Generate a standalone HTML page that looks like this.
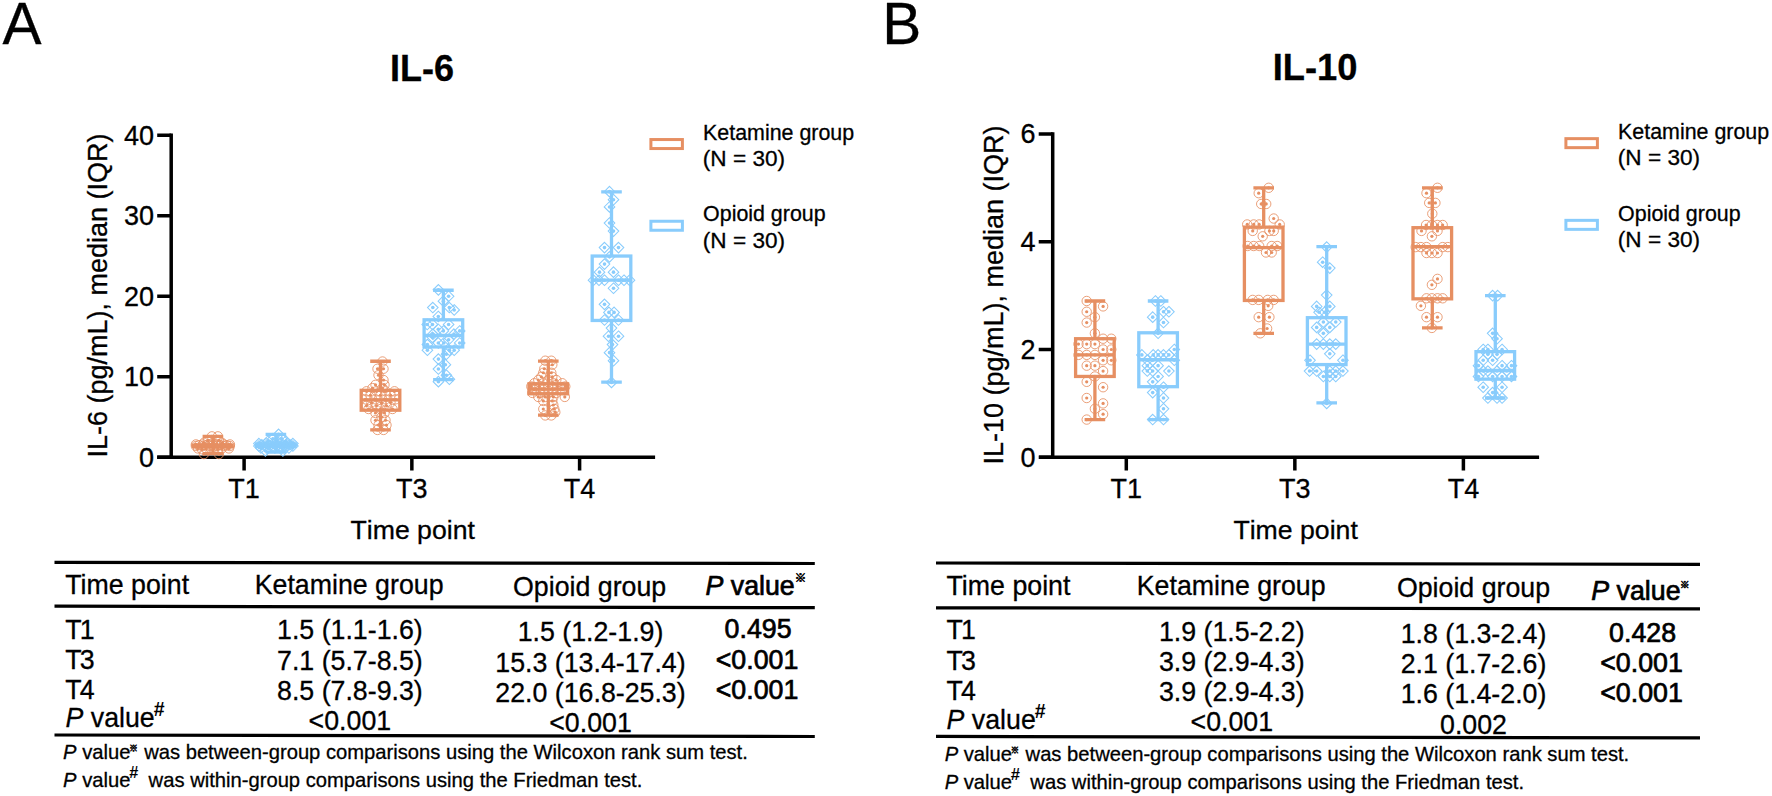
<!DOCTYPE html>
<html lang="en"><head><meta charset="utf-8"><title>IL-6 and IL-10</title>
<style>
html,body{margin:0;padding:0;background:#fff;}
body{width:1772px;height:796px;overflow:hidden;}
svg{display:block;font-family:"Liberation Sans", sans-serif;fill:#000;}
text{white-space:pre;stroke:#000;stroke-width:0.3px;}
.t27{font-size:27px;font-kerning:none;}
.nk{font-kerning:none;font-size:26.65px;}
.tt{font-size:26.75px;}
.t21{font-size:21.4px;font-kerning:none;}
.t22{font-size:22.6px;}
.t19{font-size:20.2px;}
.b{stroke:#000;stroke-width:0.7px;}
.i{font-style:italic;}
.sb{font-weight:bold;stroke:none;}
.sb.cjk{stroke:#000;stroke-width:0.7px;}
.cjk{font-family:"Liberation Sans","Noto Sans CJK SC","Noto Sans CJK JP",sans-serif;}
</style></head><body>
<svg width="1772" height="796" viewBox="0 0 1772 796">

<text x="2.6" y="43.8" font-size="58.5">A</text>
<text x="882.3" y="43.8" font-size="58.5">B</text>
<text x="422.1" y="81.1" font-size="36" font-weight="bold" text-anchor="middle">IL-6</text>
<text x="1315" y="79.7" font-size="36.3" font-weight="bold" text-anchor="middle">IL-10</text>
<text class="t27" transform="translate(106.7 295.5) rotate(-90)" text-anchor="middle">IL-6 (pg/mL), median (IQR)</text>
<text class="t27" transform="translate(1002.9 295.0) rotate(-90)" text-anchor="middle">IL-10 (pg/mL), median (IQR)</text>
<text class="t27" x="154.1" y="466.7" text-anchor="end">0</text>
<text class="t27" x="154.1" y="386.2" text-anchor="end">10</text>
<text class="t27" x="154.1" y="305.7" text-anchor="end">20</text>
<text class="t27" x="154.1" y="225.2" text-anchor="end">30</text>
<text class="t27" x="154.1" y="144.7" text-anchor="end">40</text>
<text class="t27" x="244.1" y="498.4" text-anchor="middle">T1</text>
<text class="t27" x="411.85" y="498.4" text-anchor="middle">T3</text>
<text class="t27" x="579.6" y="498.4" text-anchor="middle">T4</text>
<text class="t27" x="1035.6" y="466.7" text-anchor="end">0</text>
<text class="t27" x="1035.6" y="358.9" text-anchor="end">2</text>
<text class="t27" x="1035.6" y="251.1" text-anchor="end">4</text>
<text class="t27" x="1035.6" y="143.3" text-anchor="end">6</text>
<text class="t27" x="1126.3" y="498.4" text-anchor="middle">T1</text>
<text class="t27" x="1294.85" y="498.4" text-anchor="middle">T3</text>
<text class="t27" x="1463.4" y="498.4" text-anchor="middle">T4</text>
<text class="t27 nk" x="412.7" y="538.7" text-anchor="middle">Time point</text>
<text class="t27 nk" x="1295.6" y="539" text-anchor="middle">Time point</text>
<rect x="650.9" y="139.55" width="31.5" height="9" fill="none" stroke="#E68F62" stroke-width="3"/>
<rect x="650.9" y="221.25" width="31.5" height="9" fill="none" stroke="#89CCFC" stroke-width="3"/>
<text class="t21" x="703.1" y="139.70000000000002">Ketamine group</text>
<text class="t22" x="702.8000000000001" y="165.6">(N = 30)</text>
<text class="t21" x="703.1" y="221.4">Opioid group</text>
<text class="t22" x="702.8000000000001" y="247.60000000000002">(N = 30)</text>
<rect x="1565.9" y="138.65" width="31.5" height="9" fill="none" stroke="#E68F62" stroke-width="3"/>
<rect x="1565.9" y="220.35" width="31.5" height="9" fill="none" stroke="#89CCFC" stroke-width="3"/>
<text class="t21" x="1618.1" y="138.8">Ketamine group</text>
<text class="t22" x="1617.8" y="164.7">(N = 30)</text>
<text class="t21" x="1618.1" y="220.5">Opioid group</text>
<text class="t22" x="1617.8" y="246.7">(N = 30)</text>
<g stroke="#000" stroke-width="3.5" fill="none"><path d="M171.2 133.55V457.3M157.2 457.3H655.1"/>
<path d="M157.2 457.3H171.2M157.2 376.8H171.2M157.2 296.3H171.2M157.2 215.8H171.2M157.2 135.3H171.2M244.1 457.3V470.6M411.85 457.3V470.6M579.6 457.3V470.6"/></g>
<g stroke="#000" stroke-width="3.5" fill="none"><path d="M1052.7 132.15V457.3M1039 457.3H1539.1"/>
<path d="M1038.7 457.3H1052.7M1038.7 349.5H1052.7M1038.7 241.7H1052.7M1038.7 133.9H1052.7M1126.3 457.3V470.6M1294.85 457.3V470.6M1463.4 457.3V470.6"/></g>
<g stroke="#E68F62" stroke-width="3.3" fill="none"><path d="M212.9 436.37V445.06M212.9 446.43V453.68M202.6 436.37H223.2M202.6 453.68H223.2M193.6 445.71H232.2"/><rect x="193.6" y="445.06" width="38.6" height="1.37"/></g><g fill="none" stroke="#E68F62" stroke-width="0.85"><circle cx="211.9" cy="436.37" r="4.7"/><circle cx="211.9" cy="436.37" r="1.6" fill="#E68F62" stroke="none"/><circle cx="217.9" cy="436.37" r="4.7"/><circle cx="217.9" cy="436.37" r="1.6" fill="#E68F62" stroke="none"/><circle cx="207.9" cy="440.39" r="4.7"/><circle cx="207.9" cy="440.39" r="1.6" fill="#E68F62" stroke="none"/><circle cx="218.9" cy="440.39" r="4.7"/><circle cx="218.9" cy="440.39" r="1.6" fill="#E68F62" stroke="none"/><circle cx="203.9" cy="442.81" r="4.7"/><circle cx="203.9" cy="442.81" r="1.6" fill="#E68F62" stroke="none"/><circle cx="212.9" cy="442.81" r="4.7"/><circle cx="212.9" cy="442.81" r="1.6" fill="#E68F62" stroke="none"/><circle cx="221.9" cy="442.81" r="4.7"/><circle cx="221.9" cy="442.81" r="1.6" fill="#E68F62" stroke="none"/><circle cx="195.9" cy="444.42" r="4.7"/><circle cx="195.9" cy="444.42" r="1.6" fill="#E68F62" stroke="none"/><circle cx="202.9" cy="444.42" r="4.7"/><circle cx="202.9" cy="444.42" r="1.6" fill="#E68F62" stroke="none"/><circle cx="209.9" cy="444.42" r="4.7"/><circle cx="209.9" cy="444.42" r="1.6" fill="#E68F62" stroke="none"/><circle cx="216.9" cy="444.42" r="4.7"/><circle cx="216.9" cy="444.42" r="1.6" fill="#E68F62" stroke="none"/><circle cx="223.9" cy="444.42" r="4.7"/><circle cx="223.9" cy="444.42" r="1.6" fill="#E68F62" stroke="none"/><circle cx="229.9" cy="444.42" r="4.7"/><circle cx="229.9" cy="444.42" r="1.6" fill="#E68F62" stroke="none"/><circle cx="198.9" cy="445.23" r="4.7"/><circle cx="198.9" cy="445.23" r="1.6" fill="#E68F62" stroke="none"/><circle cx="205.9" cy="445.23" r="4.7"/><circle cx="205.9" cy="445.23" r="1.6" fill="#E68F62" stroke="none"/><circle cx="212.9" cy="445.23" r="4.7"/><circle cx="212.9" cy="445.23" r="1.6" fill="#E68F62" stroke="none"/><circle cx="219.9" cy="445.23" r="4.7"/><circle cx="219.9" cy="445.23" r="1.6" fill="#E68F62" stroke="none"/><circle cx="226.9" cy="445.23" r="4.7"/><circle cx="226.9" cy="445.23" r="1.6" fill="#E68F62" stroke="none"/><circle cx="195.9" cy="446.03" r="4.7"/><circle cx="195.9" cy="446.03" r="1.6" fill="#E68F62" stroke="none"/><circle cx="202.9" cy="446.03" r="4.7"/><circle cx="202.9" cy="446.03" r="1.6" fill="#E68F62" stroke="none"/><circle cx="209.9" cy="446.03" r="4.7"/><circle cx="209.9" cy="446.03" r="1.6" fill="#E68F62" stroke="none"/><circle cx="216.9" cy="446.03" r="4.7"/><circle cx="216.9" cy="446.03" r="1.6" fill="#E68F62" stroke="none"/><circle cx="223.9" cy="446.03" r="4.7"/><circle cx="223.9" cy="446.03" r="1.6" fill="#E68F62" stroke="none"/><circle cx="229.9" cy="446.03" r="4.7"/><circle cx="229.9" cy="446.03" r="1.6" fill="#E68F62" stroke="none"/><circle cx="197.9" cy="448.44" r="4.7"/><circle cx="197.9" cy="448.44" r="1.6" fill="#E68F62" stroke="none"/><circle cx="205.9" cy="448.44" r="4.7"/><circle cx="205.9" cy="448.44" r="1.6" fill="#E68F62" stroke="none"/><circle cx="213.9" cy="448.44" r="4.7"/><circle cx="213.9" cy="448.44" r="1.6" fill="#E68F62" stroke="none"/><circle cx="221.9" cy="448.44" r="4.7"/><circle cx="221.9" cy="448.44" r="1.6" fill="#E68F62" stroke="none"/><circle cx="228.9" cy="448.44" r="4.7"/><circle cx="228.9" cy="448.44" r="1.6" fill="#E68F62" stroke="none"/><circle cx="201.9" cy="449.25" r="4.7"/><circle cx="201.9" cy="449.25" r="1.6" fill="#E68F62" stroke="none"/><circle cx="217.9" cy="449.25" r="4.7"/><circle cx="217.9" cy="449.25" r="1.6" fill="#E68F62" stroke="none"/><circle cx="203.9" cy="454.08" r="4.7"/><circle cx="203.9" cy="454.08" r="1.6" fill="#E68F62" stroke="none"/><circle cx="218.9" cy="454.08" r="4.7"/><circle cx="218.9" cy="454.08" r="1.6" fill="#E68F62" stroke="none"/></g>
<g stroke="#89CCFC" stroke-width="3.3" fill="none"><path d="M275.9 434.28V444.02M275.9 446.27V452.07M265.6 434.28H286.2M265.6 452.07H286.2M256.6 445.23H295.2"/><rect x="256.6" y="444.02" width="38.6" height="2.25"/></g><g fill="none" stroke="#89CCFC" stroke-width="0.85"><path stroke-width="1.05" d="M278.6 429.06L283.9 434.36L278.6 439.66L273.3 434.36Z"/><circle cx="278.6" cy="434.36" r="1.8" fill="#89CCFC" stroke="none"/><path stroke-width="1.05" d="M272.9 433.49L278.2 438.79L272.9 444.09L267.6 438.79Z"/><circle cx="272.9" cy="438.79" r="1.8" fill="#89CCFC" stroke="none"/><path stroke-width="1.05" d="M281.9 433.49L287.2 438.79L281.9 444.09L276.6 438.79Z"/><circle cx="281.9" cy="438.79" r="1.8" fill="#89CCFC" stroke="none"/><path stroke-width="1.05" d="M267.9 435.9L273.2 441.2L267.9 446.5L262.6 441.2Z"/><circle cx="267.9" cy="441.2" r="1.8" fill="#89CCFC" stroke="none"/><path stroke-width="1.05" d="M276.9 435.9L282.2 441.2L276.9 446.5L271.6 441.2Z"/><circle cx="276.9" cy="441.2" r="1.8" fill="#89CCFC" stroke="none"/><path stroke-width="1.05" d="M285.9 435.9L291.2 441.2L285.9 446.5L280.6 441.2Z"/><circle cx="285.9" cy="441.2" r="1.8" fill="#89CCFC" stroke="none"/><path stroke-width="1.05" d="M258.9 438.31L264.2 443.62L258.9 448.92L253.6 443.62Z"/><circle cx="258.9" cy="443.62" r="1.8" fill="#89CCFC" stroke="none"/><path stroke-width="1.05" d="M265.9 438.31L271.2 443.62L265.9 448.92L260.6 443.62Z"/><circle cx="265.9" cy="443.62" r="1.8" fill="#89CCFC" stroke="none"/><path stroke-width="1.05" d="M272.9 438.31L278.2 443.62L272.9 448.92L267.6 443.62Z"/><circle cx="272.9" cy="443.62" r="1.8" fill="#89CCFC" stroke="none"/><path stroke-width="1.05" d="M279.9 438.31L285.2 443.62L279.9 448.92L274.6 443.62Z"/><circle cx="279.9" cy="443.62" r="1.8" fill="#89CCFC" stroke="none"/><path stroke-width="1.05" d="M286.9 438.31L292.2 443.62L286.9 448.92L281.6 443.62Z"/><circle cx="286.9" cy="443.62" r="1.8" fill="#89CCFC" stroke="none"/><path stroke-width="1.05" d="M292.9 438.31L298.2 443.62L292.9 448.92L287.6 443.62Z"/><circle cx="292.9" cy="443.62" r="1.8" fill="#89CCFC" stroke="none"/><path stroke-width="1.05" d="M261.9 439.52L267.2 444.82L261.9 450.12L256.6 444.82Z"/><circle cx="261.9" cy="444.82" r="1.8" fill="#89CCFC" stroke="none"/><path stroke-width="1.05" d="M268.9 439.52L274.2 444.82L268.9 450.12L263.6 444.82Z"/><circle cx="268.9" cy="444.82" r="1.8" fill="#89CCFC" stroke="none"/><path stroke-width="1.05" d="M275.9 439.52L281.2 444.82L275.9 450.12L270.6 444.82Z"/><circle cx="275.9" cy="444.82" r="1.8" fill="#89CCFC" stroke="none"/><path stroke-width="1.05" d="M282.9 439.52L288.2 444.82L282.9 450.12L277.6 444.82Z"/><circle cx="282.9" cy="444.82" r="1.8" fill="#89CCFC" stroke="none"/><path stroke-width="1.05" d="M289.9 439.52L295.2 444.82L289.9 450.12L284.6 444.82Z"/><circle cx="289.9" cy="444.82" r="1.8" fill="#89CCFC" stroke="none"/><path stroke-width="1.05" d="M258.9 440.73L264.2 446.03L258.9 451.33L253.6 446.03Z"/><circle cx="258.9" cy="446.03" r="1.8" fill="#89CCFC" stroke="none"/><path stroke-width="1.05" d="M265.9 440.73L271.2 446.03L265.9 451.33L260.6 446.03Z"/><circle cx="265.9" cy="446.03" r="1.8" fill="#89CCFC" stroke="none"/><path stroke-width="1.05" d="M272.9 440.73L278.2 446.03L272.9 451.33L267.6 446.03Z"/><circle cx="272.9" cy="446.03" r="1.8" fill="#89CCFC" stroke="none"/><path stroke-width="1.05" d="M279.9 440.73L285.2 446.03L279.9 451.33L274.6 446.03Z"/><circle cx="279.9" cy="446.03" r="1.8" fill="#89CCFC" stroke="none"/><path stroke-width="1.05" d="M286.9 440.73L292.2 446.03L286.9 451.33L281.6 446.03Z"/><circle cx="286.9" cy="446.03" r="1.8" fill="#89CCFC" stroke="none"/><path stroke-width="1.05" d="M292.9 440.73L298.2 446.03L292.9 451.33L287.6 446.03Z"/><circle cx="292.9" cy="446.03" r="1.8" fill="#89CCFC" stroke="none"/><path stroke-width="1.05" d="M260.9 442.74L266.2 448.04L260.9 453.34L255.6 448.04Z"/><circle cx="260.9" cy="448.04" r="1.8" fill="#89CCFC" stroke="none"/><path stroke-width="1.05" d="M267.9 442.74L273.2 448.04L267.9 453.34L262.6 448.04Z"/><circle cx="267.9" cy="448.04" r="1.8" fill="#89CCFC" stroke="none"/><path stroke-width="1.05" d="M274.9 442.74L280.2 448.04L274.9 453.34L269.6 448.04Z"/><circle cx="274.9" cy="448.04" r="1.8" fill="#89CCFC" stroke="none"/><path stroke-width="1.05" d="M281.9 442.74L287.2 448.04L281.9 453.34L276.6 448.04Z"/><circle cx="281.9" cy="448.04" r="1.8" fill="#89CCFC" stroke="none"/><path stroke-width="1.05" d="M288.9 442.74L294.2 448.04L288.9 453.34L283.6 448.04Z"/><circle cx="288.9" cy="448.04" r="1.8" fill="#89CCFC" stroke="none"/><path stroke-width="1.05" d="M265.4 445.56L270.7 450.86L265.4 456.16L260.1 450.86Z"/><circle cx="265.4" cy="450.86" r="1.8" fill="#89CCFC" stroke="none"/><path stroke-width="1.05" d="M282.9 445.56L288.2 450.86L282.9 456.16L277.6 450.86Z"/><circle cx="282.9" cy="450.86" r="1.8" fill="#89CCFC" stroke="none"/></g>
<g stroke="#E68F62" stroke-width="3.3" fill="none"><path d="M380.5 361.26V390.32M380.5 410.21V429.93M370.2 361.26H390.8M370.2 429.93H390.8M361.2 399.9H399.8"/><rect x="361.2" y="390.32" width="38.6" height="19.88"/></g><g fill="none" stroke="#E68F62" stroke-width="0.85"><circle cx="382.5" cy="361.5" r="4.7"/><circle cx="382.5" cy="361.5" r="1.6" fill="#E68F62" stroke="none"/><circle cx="377.5" cy="368.75" r="4.7"/><circle cx="377.5" cy="368.75" r="1.6" fill="#E68F62" stroke="none"/><circle cx="383.5" cy="368.75" r="4.7"/><circle cx="383.5" cy="368.75" r="1.6" fill="#E68F62" stroke="none"/><circle cx="378.5" cy="375.19" r="4.7"/><circle cx="378.5" cy="375.19" r="1.6" fill="#E68F62" stroke="none"/><circle cx="383.5" cy="380.02" r="4.7"/><circle cx="383.5" cy="380.02" r="1.6" fill="#E68F62" stroke="none"/><circle cx="375.5" cy="384.85" r="4.7"/><circle cx="375.5" cy="384.85" r="1.6" fill="#E68F62" stroke="none"/><circle cx="384.5" cy="384.85" r="4.7"/><circle cx="384.5" cy="384.85" r="1.6" fill="#E68F62" stroke="none"/><circle cx="372.5" cy="388.07" r="4.7"/><circle cx="372.5" cy="388.07" r="1.6" fill="#E68F62" stroke="none"/><circle cx="382.5" cy="388.07" r="4.7"/><circle cx="382.5" cy="388.07" r="1.6" fill="#E68F62" stroke="none"/><circle cx="366.5" cy="391.29" r="4.7"/><circle cx="366.5" cy="391.29" r="1.6" fill="#E68F62" stroke="none"/><circle cx="376.5" cy="391.29" r="4.7"/><circle cx="376.5" cy="391.29" r="1.6" fill="#E68F62" stroke="none"/><circle cx="385.5" cy="391.29" r="4.7"/><circle cx="385.5" cy="391.29" r="1.6" fill="#E68F62" stroke="none"/><circle cx="394.5" cy="391.29" r="4.7"/><circle cx="394.5" cy="391.29" r="1.6" fill="#E68F62" stroke="none"/><circle cx="370.5" cy="395.31" r="4.7"/><circle cx="370.5" cy="395.31" r="1.6" fill="#E68F62" stroke="none"/><circle cx="380.5" cy="395.31" r="4.7"/><circle cx="380.5" cy="395.31" r="1.6" fill="#E68F62" stroke="none"/><circle cx="390.5" cy="395.31" r="4.7"/><circle cx="390.5" cy="395.31" r="1.6" fill="#E68F62" stroke="none"/><circle cx="365.5" cy="399.34" r="4.7"/><circle cx="365.5" cy="399.34" r="1.6" fill="#E68F62" stroke="none"/><circle cx="375.5" cy="399.34" r="4.7"/><circle cx="375.5" cy="399.34" r="1.6" fill="#E68F62" stroke="none"/><circle cx="385.5" cy="399.34" r="4.7"/><circle cx="385.5" cy="399.34" r="1.6" fill="#E68F62" stroke="none"/><circle cx="395.5" cy="399.34" r="4.7"/><circle cx="395.5" cy="399.34" r="1.6" fill="#E68F62" stroke="none"/><circle cx="371.5" cy="402.56" r="4.7"/><circle cx="371.5" cy="402.56" r="1.6" fill="#E68F62" stroke="none"/><circle cx="381.5" cy="402.56" r="4.7"/><circle cx="381.5" cy="402.56" r="1.6" fill="#E68F62" stroke="none"/><circle cx="390.5" cy="402.56" r="4.7"/><circle cx="390.5" cy="402.56" r="1.6" fill="#E68F62" stroke="none"/><circle cx="366.5" cy="405.78" r="4.7"/><circle cx="366.5" cy="405.78" r="1.6" fill="#E68F62" stroke="none"/><circle cx="376.5" cy="405.78" r="4.7"/><circle cx="376.5" cy="405.78" r="1.6" fill="#E68F62" stroke="none"/><circle cx="386.5" cy="405.78" r="4.7"/><circle cx="386.5" cy="405.78" r="1.6" fill="#E68F62" stroke="none"/><circle cx="368.5" cy="409" r="4.7"/><circle cx="368.5" cy="409" r="1.6" fill="#E68F62" stroke="none"/><circle cx="380.5" cy="409" r="4.7"/><circle cx="380.5" cy="409" r="1.6" fill="#E68F62" stroke="none"/><circle cx="392.5" cy="409" r="4.7"/><circle cx="392.5" cy="409" r="1.6" fill="#E68F62" stroke="none"/><circle cx="375.5" cy="413.02" r="4.7"/><circle cx="375.5" cy="413.02" r="1.6" fill="#E68F62" stroke="none"/><circle cx="384.5" cy="413.02" r="4.7"/><circle cx="384.5" cy="413.02" r="1.6" fill="#E68F62" stroke="none"/><circle cx="381.5" cy="417.05" r="4.7"/><circle cx="381.5" cy="417.05" r="1.6" fill="#E68F62" stroke="none"/><circle cx="375.5" cy="420.27" r="4.7"/><circle cx="375.5" cy="420.27" r="1.6" fill="#E68F62" stroke="none"/><circle cx="385.5" cy="420.27" r="4.7"/><circle cx="385.5" cy="420.27" r="1.6" fill="#E68F62" stroke="none"/><circle cx="378.5" cy="425.1" r="4.7"/><circle cx="378.5" cy="425.1" r="1.6" fill="#E68F62" stroke="none"/><circle cx="386.5" cy="425.1" r="4.7"/><circle cx="386.5" cy="425.1" r="1.6" fill="#E68F62" stroke="none"/><circle cx="377.5" cy="429.93" r="4.7"/><circle cx="377.5" cy="429.93" r="1.6" fill="#E68F62" stroke="none"/><circle cx="383.5" cy="429.93" r="4.7"/><circle cx="383.5" cy="429.93" r="1.6" fill="#E68F62" stroke="none"/></g>
<g stroke="#89CCFC" stroke-width="3.3" fill="none"><path d="M443.4 290.26V319.81M443.4 346.93V379.62M433.1 290.26H453.7M433.1 379.62H453.7M424.1 335.5H462.7"/><rect x="424.1" y="319.81" width="38.6" height="27.13"/></g><g fill="none" stroke="#89CCFC" stroke-width="0.85"><path stroke-width="1.05" d="M438.4 284.56L443.7 289.86L438.4 295.16L433.1 289.86Z"/><circle cx="438.4" cy="289.86" r="1.8" fill="#89CCFC" stroke="none"/><path stroke-width="1.05" d="M448.6 291L453.9 296.3L448.6 301.6L443.3 296.3Z"/><circle cx="448.6" cy="296.3" r="1.8" fill="#89CCFC" stroke="none"/><path stroke-width="1.05" d="M443.4 295.83L448.7 301.13L443.4 306.43L438.1 301.13Z"/><circle cx="443.4" cy="301.13" r="1.8" fill="#89CCFC" stroke="none"/><path stroke-width="1.05" d="M432.8 302.27L438.1 307.57L432.8 312.87L427.5 307.57Z"/><circle cx="432.8" cy="307.57" r="1.8" fill="#89CCFC" stroke="none"/><path stroke-width="1.05" d="M449.3 302.27L454.6 307.57L449.3 312.87L444 307.57Z"/><circle cx="449.3" cy="307.57" r="1.8" fill="#89CCFC" stroke="none"/><path stroke-width="1.05" d="M454.2 304.69L459.5 309.99L454.2 315.29L448.9 309.99Z"/><circle cx="454.2" cy="309.99" r="1.8" fill="#89CCFC" stroke="none"/><path stroke-width="1.05" d="M438.3 311.12L443.6 316.43L438.3 321.73L433 316.43Z"/><circle cx="438.3" cy="316.43" r="1.8" fill="#89CCFC" stroke="none"/><path stroke-width="1.05" d="M427.2 319.18L432.5 324.48L427.2 329.78L421.9 324.48Z"/><circle cx="427.2" cy="324.48" r="1.8" fill="#89CCFC" stroke="none"/><path stroke-width="1.05" d="M432.5 319.18L437.8 324.48L432.5 329.78L427.2 324.48Z"/><circle cx="432.5" cy="324.48" r="1.8" fill="#89CCFC" stroke="none"/><path stroke-width="1.05" d="M448.6 319.18L453.9 324.48L448.6 329.78L443.3 324.48Z"/><circle cx="448.6" cy="324.48" r="1.8" fill="#89CCFC" stroke="none"/><path stroke-width="1.05" d="M438.3 324L443.6 329.31L438.3 334.61L433 329.31Z"/><circle cx="438.3" cy="329.31" r="1.8" fill="#89CCFC" stroke="none"/><path stroke-width="1.05" d="M443.4 325.62L448.7 330.92L443.4 336.22L438.1 330.92Z"/><circle cx="443.4" cy="330.92" r="1.8" fill="#89CCFC" stroke="none"/><path stroke-width="1.05" d="M459.7 325.62L465 330.92L459.7 336.22L454.4 330.92Z"/><circle cx="459.7" cy="330.92" r="1.8" fill="#89CCFC" stroke="none"/><path stroke-width="1.05" d="M432.9 328.83L438.2 334.13L432.9 339.44L427.6 334.13Z"/><circle cx="432.9" cy="334.13" r="1.8" fill="#89CCFC" stroke="none"/><path stroke-width="1.05" d="M453.9 328.83L459.2 334.13L453.9 339.44L448.6 334.13Z"/><circle cx="453.9" cy="334.13" r="1.8" fill="#89CCFC" stroke="none"/><path stroke-width="1.05" d="M432.4 332.06L437.7 337.36L432.4 342.66L427.1 337.36Z"/><circle cx="432.4" cy="337.36" r="1.8" fill="#89CCFC" stroke="none"/><path stroke-width="1.05" d="M448.6 334.47L453.9 339.77L448.6 345.07L443.3 339.77Z"/><circle cx="448.6" cy="339.77" r="1.8" fill="#89CCFC" stroke="none"/><path stroke-width="1.05" d="M438.3 337.69L443.6 342.99L438.3 348.29L433 342.99Z"/><circle cx="438.3" cy="342.99" r="1.8" fill="#89CCFC" stroke="none"/><path stroke-width="1.05" d="M443.8 337.69L449.1 342.99L443.8 348.29L438.5 342.99Z"/><circle cx="443.8" cy="342.99" r="1.8" fill="#89CCFC" stroke="none"/><path stroke-width="1.05" d="M459.7 337.69L465 342.99L459.7 348.29L454.4 342.99Z"/><circle cx="459.7" cy="342.99" r="1.8" fill="#89CCFC" stroke="none"/><path stroke-width="1.05" d="M427.4 339.3L432.7 344.6L427.4 349.9L422.1 344.6Z"/><circle cx="427.4" cy="344.6" r="1.8" fill="#89CCFC" stroke="none"/><path stroke-width="1.05" d="M427.4 344.94L432.7 350.24L427.4 355.54L422.1 350.24Z"/><circle cx="427.4" cy="350.24" r="1.8" fill="#89CCFC" stroke="none"/><path stroke-width="1.05" d="M449.4 344.94L454.7 350.24L449.4 355.54L444.1 350.24Z"/><circle cx="449.4" cy="350.24" r="1.8" fill="#89CCFC" stroke="none"/><path stroke-width="1.05" d="M454.2 344.94L459.5 350.24L454.2 355.54L448.9 350.24Z"/><circle cx="454.2" cy="350.24" r="1.8" fill="#89CCFC" stroke="none"/><path stroke-width="1.05" d="M446.4 348.96L451.7 354.26L446.4 359.56L441.1 354.26Z"/><circle cx="446.4" cy="354.26" r="1.8" fill="#89CCFC" stroke="none"/><path stroke-width="1.05" d="M438.4 353.79L443.7 359.09L438.4 364.39L433.1 359.09Z"/><circle cx="438.4" cy="359.09" r="1.8" fill="#89CCFC" stroke="none"/><path stroke-width="1.05" d="M445.4 359.43L450.7 364.73L445.4 370.03L440.1 364.73Z"/><circle cx="445.4" cy="364.73" r="1.8" fill="#89CCFC" stroke="none"/><path stroke-width="1.05" d="M438.4 363.77L443.7 369.07L438.4 374.37L433.1 369.07Z"/><circle cx="438.4" cy="369.07" r="1.8" fill="#89CCFC" stroke="none"/><path stroke-width="1.05" d="M446.4 369.89L451.7 375.19L446.4 380.49L441.1 375.19Z"/><circle cx="446.4" cy="375.19" r="1.8" fill="#89CCFC" stroke="none"/><path stroke-width="1.05" d="M449.4 373.92L454.7 379.22L449.4 384.52L444.1 379.22Z"/><circle cx="449.4" cy="379.22" r="1.8" fill="#89CCFC" stroke="none"/><path stroke-width="1.05" d="M438.4 376.33L443.7 381.63L438.4 386.93L433.1 381.63Z"/><circle cx="438.4" cy="381.63" r="1.8" fill="#89CCFC" stroke="none"/></g>
<g stroke="#E68F62" stroke-width="3.3" fill="none"><path d="M548.3 361.1V383.8M548.3 393.79V415.2M538 361.1H558.6M538 415.2H558.6M529 389.2H567.6"/><rect x="529" y="383.8" width="38.6" height="9.98"/></g><g fill="none" stroke="#E68F62" stroke-width="0.85"><circle cx="545.3" cy="360.7" r="4.7"/><circle cx="545.3" cy="360.7" r="1.6" fill="#E68F62" stroke="none"/><circle cx="551.3" cy="360.7" r="4.7"/><circle cx="551.3" cy="360.7" r="1.6" fill="#E68F62" stroke="none"/><circle cx="552.3" cy="364.73" r="4.7"/><circle cx="552.3" cy="364.73" r="1.6" fill="#E68F62" stroke="none"/><circle cx="544.3" cy="368.75" r="4.7"/><circle cx="544.3" cy="368.75" r="1.6" fill="#E68F62" stroke="none"/><circle cx="543.3" cy="372.77" r="4.7"/><circle cx="543.3" cy="372.77" r="1.6" fill="#E68F62" stroke="none"/><circle cx="551.3" cy="372.77" r="4.7"/><circle cx="551.3" cy="372.77" r="1.6" fill="#E68F62" stroke="none"/><circle cx="541.3" cy="376.8" r="4.7"/><circle cx="541.3" cy="376.8" r="1.6" fill="#E68F62" stroke="none"/><circle cx="552.3" cy="376.8" r="4.7"/><circle cx="552.3" cy="376.8" r="1.6" fill="#E68F62" stroke="none"/><circle cx="538.3" cy="380.02" r="4.7"/><circle cx="538.3" cy="380.02" r="1.6" fill="#E68F62" stroke="none"/><circle cx="548.3" cy="380.02" r="4.7"/><circle cx="548.3" cy="380.02" r="1.6" fill="#E68F62" stroke="none"/><circle cx="556.3" cy="380.02" r="4.7"/><circle cx="556.3" cy="380.02" r="1.6" fill="#E68F62" stroke="none"/><circle cx="534.3" cy="383.24" r="4.7"/><circle cx="534.3" cy="383.24" r="1.6" fill="#E68F62" stroke="none"/><circle cx="543.3" cy="383.24" r="4.7"/><circle cx="543.3" cy="383.24" r="1.6" fill="#E68F62" stroke="none"/><circle cx="553.3" cy="383.24" r="4.7"/><circle cx="553.3" cy="383.24" r="1.6" fill="#E68F62" stroke="none"/><circle cx="562.3" cy="383.24" r="4.7"/><circle cx="562.3" cy="383.24" r="1.6" fill="#E68F62" stroke="none"/><circle cx="531.3" cy="386.46" r="4.7"/><circle cx="531.3" cy="386.46" r="1.6" fill="#E68F62" stroke="none"/><circle cx="539.3" cy="386.46" r="4.7"/><circle cx="539.3" cy="386.46" r="1.6" fill="#E68F62" stroke="none"/><circle cx="548.3" cy="386.46" r="4.7"/><circle cx="548.3" cy="386.46" r="1.6" fill="#E68F62" stroke="none"/><circle cx="557.3" cy="386.46" r="4.7"/><circle cx="557.3" cy="386.46" r="1.6" fill="#E68F62" stroke="none"/><circle cx="565.3" cy="386.46" r="4.7"/><circle cx="565.3" cy="386.46" r="1.6" fill="#E68F62" stroke="none"/><circle cx="534.3" cy="389.68" r="4.7"/><circle cx="534.3" cy="389.68" r="1.6" fill="#E68F62" stroke="none"/><circle cx="543.3" cy="389.68" r="4.7"/><circle cx="543.3" cy="389.68" r="1.6" fill="#E68F62" stroke="none"/><circle cx="553.3" cy="389.68" r="4.7"/><circle cx="553.3" cy="389.68" r="1.6" fill="#E68F62" stroke="none"/><circle cx="562.3" cy="389.68" r="4.7"/><circle cx="562.3" cy="389.68" r="1.6" fill="#E68F62" stroke="none"/><circle cx="532.3" cy="392.9" r="4.7"/><circle cx="532.3" cy="392.9" r="1.6" fill="#E68F62" stroke="none"/><circle cx="540.3" cy="392.9" r="4.7"/><circle cx="540.3" cy="392.9" r="1.6" fill="#E68F62" stroke="none"/><circle cx="548.3" cy="392.9" r="4.7"/><circle cx="548.3" cy="392.9" r="1.6" fill="#E68F62" stroke="none"/><circle cx="556.3" cy="392.9" r="4.7"/><circle cx="556.3" cy="392.9" r="1.6" fill="#E68F62" stroke="none"/><circle cx="538.3" cy="396.93" r="4.7"/><circle cx="538.3" cy="396.93" r="1.6" fill="#E68F62" stroke="none"/><circle cx="545.3" cy="396.93" r="4.7"/><circle cx="545.3" cy="396.93" r="1.6" fill="#E68F62" stroke="none"/><circle cx="553.3" cy="396.93" r="4.7"/><circle cx="553.3" cy="396.93" r="1.6" fill="#E68F62" stroke="none"/><circle cx="564.8" cy="396.93" r="4.7"/><circle cx="564.8" cy="396.93" r="1.6" fill="#E68F62" stroke="none"/><circle cx="543.3" cy="400.95" r="4.7"/><circle cx="543.3" cy="400.95" r="1.6" fill="#E68F62" stroke="none"/><circle cx="552.3" cy="400.95" r="4.7"/><circle cx="552.3" cy="400.95" r="1.6" fill="#E68F62" stroke="none"/><circle cx="553.3" cy="404.98" r="4.7"/><circle cx="553.3" cy="404.98" r="1.6" fill="#E68F62" stroke="none"/><circle cx="543.3" cy="409" r="4.7"/><circle cx="543.3" cy="409" r="1.6" fill="#E68F62" stroke="none"/><circle cx="554.3" cy="409" r="4.7"/><circle cx="554.3" cy="409" r="1.6" fill="#E68F62" stroke="none"/><circle cx="555.3" cy="412.22" r="4.7"/><circle cx="555.3" cy="412.22" r="1.6" fill="#E68F62" stroke="none"/><circle cx="545.3" cy="415.44" r="4.7"/><circle cx="545.3" cy="415.44" r="1.6" fill="#E68F62" stroke="none"/><circle cx="551.3" cy="415.44" r="4.7"/><circle cx="551.3" cy="415.44" r="1.6" fill="#E68F62" stroke="none"/></g>
<g stroke="#89CCFC" stroke-width="3.3" fill="none"><path d="M611.5 191.81V256.05M611.5 320.45V382.11M601.2 191.81H621.8M601.2 382.11H621.8M592.2 280.2H630.8"/><rect x="592.2" y="256.05" width="38.6" height="64.4"/></g><g fill="none" stroke="#89CCFC" stroke-width="0.85"><path stroke-width="1.05" d="M609.5 186.35L614.8 191.65L609.5 196.95L604.2 191.65Z"/><circle cx="609.5" cy="191.65" r="1.8" fill="#89CCFC" stroke="none"/><path stroke-width="1.05" d="M613.5 194.4L618.8 199.7L613.5 205L608.2 199.7Z"/><circle cx="613.5" cy="199.7" r="1.8" fill="#89CCFC" stroke="none"/><path stroke-width="1.05" d="M609.5 201.64L614.8 206.94L609.5 212.24L604.2 206.94Z"/><circle cx="609.5" cy="206.94" r="1.8" fill="#89CCFC" stroke="none"/><path stroke-width="1.05" d="M609.5 217.74L614.8 223.04L609.5 228.34L604.2 223.04Z"/><circle cx="609.5" cy="223.04" r="1.8" fill="#89CCFC" stroke="none"/><path stroke-width="1.05" d="M613.5 225.79L618.8 231.09L613.5 236.39L608.2 231.09Z"/><circle cx="613.5" cy="231.09" r="1.8" fill="#89CCFC" stroke="none"/><path stroke-width="1.05" d="M604.5 242.3L609.8 247.6L604.5 252.9L599.2 247.6Z"/><circle cx="604.5" cy="247.6" r="1.8" fill="#89CCFC" stroke="none"/><path stroke-width="1.05" d="M618.5 242.3L623.8 247.6L618.5 252.9L613.2 247.6Z"/><circle cx="618.5" cy="247.6" r="1.8" fill="#89CCFC" stroke="none"/><path stroke-width="1.05" d="M609.5 251.56L614.8 256.86L609.5 262.16L604.2 256.86Z"/><circle cx="609.5" cy="256.86" r="1.8" fill="#89CCFC" stroke="none"/><path stroke-width="1.05" d="M604.5 258.8L609.8 264.1L604.5 269.4L599.2 264.1Z"/><circle cx="604.5" cy="264.1" r="1.8" fill="#89CCFC" stroke="none"/><path stroke-width="1.05" d="M599.5 266.85L604.8 272.15L599.5 277.45L594.2 272.15Z"/><circle cx="599.5" cy="272.15" r="1.8" fill="#89CCFC" stroke="none"/><path stroke-width="1.05" d="M613.5 266.85L618.8 272.15L613.5 277.45L608.2 272.15Z"/><circle cx="613.5" cy="272.15" r="1.8" fill="#89CCFC" stroke="none"/><path stroke-width="1.05" d="M593.5 274.9L598.8 280.2L593.5 285.5L588.2 280.2Z"/><circle cx="593.5" cy="280.2" r="1.8" fill="#89CCFC" stroke="none"/><path stroke-width="1.05" d="M599 274.9L604.3 280.2L599 285.5L593.7 280.2Z"/><circle cx="599" cy="280.2" r="1.8" fill="#89CCFC" stroke="none"/><path stroke-width="1.05" d="M604.5 274.9L609.8 280.2L604.5 285.5L599.2 280.2Z"/><circle cx="604.5" cy="280.2" r="1.8" fill="#89CCFC" stroke="none"/><path stroke-width="1.05" d="M618.5 274.9L623.8 280.2L618.5 285.5L613.2 280.2Z"/><circle cx="618.5" cy="280.2" r="1.8" fill="#89CCFC" stroke="none"/><path stroke-width="1.05" d="M624 274.9L629.3 280.2L624 285.5L618.7 280.2Z"/><circle cx="624" cy="280.2" r="1.8" fill="#89CCFC" stroke="none"/><path stroke-width="1.05" d="M629.5 274.9L634.8 280.2L629.5 285.5L624.2 280.2Z"/><circle cx="629.5" cy="280.2" r="1.8" fill="#89CCFC" stroke="none"/><path stroke-width="1.05" d="M613.5 282.95L618.8 288.25L613.5 293.55L608.2 288.25Z"/><circle cx="613.5" cy="288.25" r="1.8" fill="#89CCFC" stroke="none"/><path stroke-width="1.05" d="M604.5 299.05L609.8 304.35L604.5 309.65L599.2 304.35Z"/><circle cx="604.5" cy="304.35" r="1.8" fill="#89CCFC" stroke="none"/><path stroke-width="1.05" d="M608.9 307.1L614.2 312.4L608.9 317.7L603.6 312.4Z"/><circle cx="608.9" cy="312.4" r="1.8" fill="#89CCFC" stroke="none"/><path stroke-width="1.05" d="M614.1 307.1L619.4 312.4L614.1 317.7L608.8 312.4Z"/><circle cx="614.1" cy="312.4" r="1.8" fill="#89CCFC" stroke="none"/><path stroke-width="1.05" d="M604.5 314.75L609.8 320.05L604.5 325.35L599.2 320.05Z"/><circle cx="604.5" cy="320.05" r="1.8" fill="#89CCFC" stroke="none"/><path stroke-width="1.05" d="M618.5 314.75L623.8 320.05L618.5 325.35L613.2 320.05Z"/><circle cx="618.5" cy="320.05" r="1.8" fill="#89CCFC" stroke="none"/><path stroke-width="1.05" d="M611.5 322.8L616.8 328.1L611.5 333.4L606.2 328.1Z"/><circle cx="611.5" cy="328.1" r="1.8" fill="#89CCFC" stroke="none"/><path stroke-width="1.05" d="M608.5 330.93L613.8 336.23L608.5 341.53L603.2 336.23Z"/><circle cx="608.5" cy="336.23" r="1.8" fill="#89CCFC" stroke="none"/><path stroke-width="1.05" d="M618.5 330.93L623.8 336.23L618.5 341.53L613.2 336.23Z"/><circle cx="618.5" cy="336.23" r="1.8" fill="#89CCFC" stroke="none"/><path stroke-width="1.05" d="M612.5 339.3L617.8 344.6L612.5 349.9L607.2 344.6Z"/><circle cx="612.5" cy="344.6" r="1.8" fill="#89CCFC" stroke="none"/><path stroke-width="1.05" d="M609.5 347.35L614.8 352.65L609.5 357.95L604.2 352.65Z"/><circle cx="609.5" cy="352.65" r="1.8" fill="#89CCFC" stroke="none"/><path stroke-width="1.05" d="M613.5 355.4L618.8 360.7L613.5 366L608.2 360.7Z"/><circle cx="613.5" cy="360.7" r="1.8" fill="#89CCFC" stroke="none"/><path stroke-width="1.05" d="M611.5 377.13L616.8 382.44L611.5 387.74L606.2 382.44Z"/><circle cx="611.5" cy="382.44" r="1.8" fill="#89CCFC" stroke="none"/></g>
<g stroke="#E68F62" stroke-width="3.3" fill="none"><path d="M1094.9 300.99V338.72M1094.9 376.45V419.57M1084.6 300.99H1105.2M1084.6 419.57H1105.2M1075.6 354.89H1114.2"/><rect x="1075.6" y="338.72" width="38.6" height="37.73"/></g><g fill="none" stroke="#E68F62" stroke-width="0.85"><circle cx="1086.7" cy="300.99" r="4.7"/><circle cx="1086.7" cy="300.99" r="1.6" fill="#E68F62" stroke="none"/><circle cx="1103.1" cy="306.38" r="4.7"/><circle cx="1103.1" cy="306.38" r="1.6" fill="#E68F62" stroke="none"/><circle cx="1086.7" cy="311.77" r="4.7"/><circle cx="1086.7" cy="311.77" r="1.6" fill="#E68F62" stroke="none"/><circle cx="1094.9" cy="317.16" r="4.7"/><circle cx="1094.9" cy="317.16" r="1.6" fill="#E68F62" stroke="none"/><circle cx="1086.7" cy="322.55" r="4.7"/><circle cx="1086.7" cy="322.55" r="1.6" fill="#E68F62" stroke="none"/><circle cx="1094.9" cy="333.33" r="4.7"/><circle cx="1094.9" cy="333.33" r="1.6" fill="#E68F62" stroke="none"/><circle cx="1103.1" cy="338.72" r="4.7"/><circle cx="1103.1" cy="338.72" r="1.6" fill="#E68F62" stroke="none"/><circle cx="1111.3" cy="338.72" r="4.7"/><circle cx="1111.3" cy="338.72" r="1.6" fill="#E68F62" stroke="none"/><circle cx="1078.5" cy="344.11" r="4.7"/><circle cx="1078.5" cy="344.11" r="1.6" fill="#E68F62" stroke="none"/><circle cx="1086.7" cy="344.11" r="4.7"/><circle cx="1086.7" cy="344.11" r="1.6" fill="#E68F62" stroke="none"/><circle cx="1094.9" cy="344.11" r="4.7"/><circle cx="1094.9" cy="344.11" r="1.6" fill="#E68F62" stroke="none"/><circle cx="1103.1" cy="349.5" r="4.7"/><circle cx="1103.1" cy="349.5" r="1.6" fill="#E68F62" stroke="none"/><circle cx="1111.3" cy="349.5" r="4.7"/><circle cx="1111.3" cy="349.5" r="1.6" fill="#E68F62" stroke="none"/><circle cx="1078.5" cy="354.89" r="4.7"/><circle cx="1078.5" cy="354.89" r="1.6" fill="#E68F62" stroke="none"/><circle cx="1086.7" cy="354.89" r="4.7"/><circle cx="1086.7" cy="354.89" r="1.6" fill="#E68F62" stroke="none"/><circle cx="1094.9" cy="354.89" r="4.7"/><circle cx="1094.9" cy="354.89" r="1.6" fill="#E68F62" stroke="none"/><circle cx="1103.1" cy="360.28" r="4.7"/><circle cx="1103.1" cy="360.28" r="1.6" fill="#E68F62" stroke="none"/><circle cx="1111.3" cy="360.28" r="4.7"/><circle cx="1111.3" cy="360.28" r="1.6" fill="#E68F62" stroke="none"/><circle cx="1086.7" cy="365.67" r="4.7"/><circle cx="1086.7" cy="365.67" r="1.6" fill="#E68F62" stroke="none"/><circle cx="1094.9" cy="365.67" r="4.7"/><circle cx="1094.9" cy="365.67" r="1.6" fill="#E68F62" stroke="none"/><circle cx="1103.1" cy="371.06" r="4.7"/><circle cx="1103.1" cy="371.06" r="1.6" fill="#E68F62" stroke="none"/><circle cx="1094.9" cy="376.45" r="4.7"/><circle cx="1094.9" cy="376.45" r="1.6" fill="#E68F62" stroke="none"/><circle cx="1086.7" cy="381.84" r="4.7"/><circle cx="1086.7" cy="381.84" r="1.6" fill="#E68F62" stroke="none"/><circle cx="1103.1" cy="387.23" r="4.7"/><circle cx="1103.1" cy="387.23" r="1.6" fill="#E68F62" stroke="none"/><circle cx="1086.7" cy="398.01" r="4.7"/><circle cx="1086.7" cy="398.01" r="1.6" fill="#E68F62" stroke="none"/><circle cx="1103.1" cy="403.4" r="4.7"/><circle cx="1103.1" cy="403.4" r="1.6" fill="#E68F62" stroke="none"/><circle cx="1094.9" cy="408.79" r="4.7"/><circle cx="1094.9" cy="408.79" r="1.6" fill="#E68F62" stroke="none"/><circle cx="1103.1" cy="414.18" r="4.7"/><circle cx="1103.1" cy="414.18" r="1.6" fill="#E68F62" stroke="none"/><circle cx="1086.7" cy="419.57" r="4.7"/><circle cx="1086.7" cy="419.57" r="1.6" fill="#E68F62" stroke="none"/></g>
<g stroke="#89CCFC" stroke-width="3.3" fill="none"><path d="M1158.1 300.99V332.79M1158.1 386.69V419.57M1147.8 300.99H1168.4M1147.8 419.57H1168.4M1138.8 359.74H1177.4"/><rect x="1138.8" y="332.79" width="38.6" height="53.9"/></g><g fill="none" stroke="#89CCFC" stroke-width="0.85"><path stroke-width="1.05" d="M1155.4 295.69L1160.7 300.99L1155.4 306.29L1150.1 300.99Z"/><circle cx="1155.4" cy="300.99" r="1.8" fill="#89CCFC" stroke="none"/><path stroke-width="1.05" d="M1160.8 295.69L1166.1 300.99L1160.8 306.29L1155.5 300.99Z"/><circle cx="1160.8" cy="300.99" r="1.8" fill="#89CCFC" stroke="none"/><path stroke-width="1.05" d="M1163.5 306.47L1168.8 311.77L1163.5 317.07L1158.2 311.77Z"/><circle cx="1163.5" cy="311.77" r="1.8" fill="#89CCFC" stroke="none"/><path stroke-width="1.05" d="M1168.9 306.47L1174.2 311.77L1168.9 317.07L1163.6 311.77Z"/><circle cx="1168.9" cy="311.77" r="1.8" fill="#89CCFC" stroke="none"/><path stroke-width="1.05" d="M1152.7 311.86L1158 317.16L1152.7 322.46L1147.4 317.16Z"/><circle cx="1152.7" cy="317.16" r="1.8" fill="#89CCFC" stroke="none"/><path stroke-width="1.05" d="M1163.5 317.25L1168.8 322.55L1163.5 327.85L1158.2 322.55Z"/><circle cx="1163.5" cy="322.55" r="1.8" fill="#89CCFC" stroke="none"/><path stroke-width="1.05" d="M1158.1 328.03L1163.4 333.33L1158.1 338.63L1152.8 333.33Z"/><circle cx="1158.1" cy="333.33" r="1.8" fill="#89CCFC" stroke="none"/><path stroke-width="1.05" d="M1174.3 344.2L1179.6 349.5L1174.3 354.8L1169 349.5Z"/><circle cx="1174.3" cy="349.5" r="1.8" fill="#89CCFC" stroke="none"/><path stroke-width="1.05" d="M1141.9 349.59L1147.2 354.89L1141.9 360.19L1136.6 354.89Z"/><circle cx="1141.9" cy="354.89" r="1.8" fill="#89CCFC" stroke="none"/><path stroke-width="1.05" d="M1158.1 349.59L1163.4 354.89L1158.1 360.19L1152.8 354.89Z"/><circle cx="1158.1" cy="354.89" r="1.8" fill="#89CCFC" stroke="none"/><path stroke-width="1.05" d="M1163.5 349.59L1168.8 354.89L1163.5 360.19L1158.2 354.89Z"/><circle cx="1163.5" cy="354.89" r="1.8" fill="#89CCFC" stroke="none"/><path stroke-width="1.05" d="M1168.9 349.59L1174.2 354.89L1168.9 360.19L1163.6 354.89Z"/><circle cx="1168.9" cy="354.89" r="1.8" fill="#89CCFC" stroke="none"/><path stroke-width="1.05" d="M1153.24 349.59L1158.54 354.89L1153.24 360.19L1147.94 354.89Z"/><circle cx="1153.24" cy="354.89" r="1.8" fill="#89CCFC" stroke="none"/><path stroke-width="1.05" d="M1147.3 354.98L1152.6 360.28L1147.3 365.58L1142 360.28Z"/><circle cx="1147.3" cy="360.28" r="1.8" fill="#89CCFC" stroke="none"/><path stroke-width="1.05" d="M1152.7 354.98L1158 360.28L1152.7 365.58L1147.4 360.28Z"/><circle cx="1152.7" cy="360.28" r="1.8" fill="#89CCFC" stroke="none"/><path stroke-width="1.05" d="M1174.3 354.98L1179.6 360.28L1174.3 365.58L1169 360.28Z"/><circle cx="1174.3" cy="360.28" r="1.8" fill="#89CCFC" stroke="none"/><path stroke-width="1.05" d="M1158.1 360.37L1163.4 365.67L1158.1 370.97L1152.8 365.67Z"/><circle cx="1158.1" cy="365.67" r="1.8" fill="#89CCFC" stroke="none"/><path stroke-width="1.05" d="M1147.3 360.37L1152.6 365.67L1147.3 370.97L1142 365.67Z"/><circle cx="1147.3" cy="365.67" r="1.8" fill="#89CCFC" stroke="none"/><path stroke-width="1.05" d="M1147.3 365.76L1152.6 371.06L1147.3 376.36L1142 371.06Z"/><circle cx="1147.3" cy="371.06" r="1.8" fill="#89CCFC" stroke="none"/><path stroke-width="1.05" d="M1152.7 365.76L1158 371.06L1152.7 376.36L1147.4 371.06Z"/><circle cx="1152.7" cy="371.06" r="1.8" fill="#89CCFC" stroke="none"/><path stroke-width="1.05" d="M1168.9 365.76L1174.2 371.06L1168.9 376.36L1163.6 371.06Z"/><circle cx="1168.9" cy="371.06" r="1.8" fill="#89CCFC" stroke="none"/><path stroke-width="1.05" d="M1158.1 371.15L1163.4 376.45L1158.1 381.75L1152.8 376.45Z"/><circle cx="1158.1" cy="376.45" r="1.8" fill="#89CCFC" stroke="none"/><path stroke-width="1.05" d="M1152.7 376.54L1158 381.84L1152.7 387.14L1147.4 381.84Z"/><circle cx="1152.7" cy="381.84" r="1.8" fill="#89CCFC" stroke="none"/><path stroke-width="1.05" d="M1163.5 381.93L1168.8 387.23L1163.5 392.53L1158.2 387.23Z"/><circle cx="1163.5" cy="387.23" r="1.8" fill="#89CCFC" stroke="none"/><path stroke-width="1.05" d="M1152.7 387.32L1158 392.62L1152.7 397.92L1147.4 392.62Z"/><circle cx="1152.7" cy="392.62" r="1.8" fill="#89CCFC" stroke="none"/><path stroke-width="1.05" d="M1163.5 392.71L1168.8 398.01L1163.5 403.31L1158.2 398.01Z"/><circle cx="1163.5" cy="398.01" r="1.8" fill="#89CCFC" stroke="none"/><path stroke-width="1.05" d="M1163.5 403.49L1168.8 408.79L1163.5 414.09L1158.2 408.79Z"/><circle cx="1163.5" cy="408.79" r="1.8" fill="#89CCFC" stroke="none"/><path stroke-width="1.05" d="M1152.7 414.27L1158 419.57L1152.7 424.87L1147.4 419.57Z"/><circle cx="1152.7" cy="419.57" r="1.8" fill="#89CCFC" stroke="none"/><path stroke-width="1.05" d="M1163.5 414.27L1168.8 419.57L1163.5 424.87L1158.2 419.57Z"/><circle cx="1163.5" cy="419.57" r="1.8" fill="#89CCFC" stroke="none"/></g>
<g stroke="#E68F62" stroke-width="3.3" fill="none"><path d="M1263.7 187.8V227.15M1263.7 300.45V333.33M1253.4 187.8H1274M1253.4 333.33H1274M1244.4 247.63H1283"/><rect x="1244.4" y="227.15" width="38.6" height="73.3"/></g><g fill="none" stroke="#E68F62" stroke-width="0.85"><circle cx="1268.7" cy="187.8" r="4.7"/><circle cx="1268.7" cy="187.8" r="1.6" fill="#E68F62" stroke="none"/><circle cx="1258.7" cy="193.19" r="4.7"/><circle cx="1258.7" cy="193.19" r="1.6" fill="#E68F62" stroke="none"/><circle cx="1261.2" cy="203.97" r="4.7"/><circle cx="1261.2" cy="203.97" r="1.6" fill="#E68F62" stroke="none"/><circle cx="1266.2" cy="203.97" r="4.7"/><circle cx="1266.2" cy="203.97" r="1.6" fill="#E68F62" stroke="none"/><circle cx="1273.7" cy="218.52" r="4.7"/><circle cx="1273.7" cy="218.52" r="1.6" fill="#E68F62" stroke="none"/><circle cx="1247.2" cy="224.45" r="4.7"/><circle cx="1247.2" cy="224.45" r="1.6" fill="#E68F62" stroke="none"/><circle cx="1253.7" cy="224.45" r="4.7"/><circle cx="1253.7" cy="224.45" r="1.6" fill="#E68F62" stroke="none"/><circle cx="1259.2" cy="224.45" r="4.7"/><circle cx="1259.2" cy="224.45" r="1.6" fill="#E68F62" stroke="none"/><circle cx="1279.7" cy="224.45" r="4.7"/><circle cx="1279.7" cy="224.45" r="1.6" fill="#E68F62" stroke="none"/><circle cx="1252.7" cy="230.92" r="4.7"/><circle cx="1252.7" cy="230.92" r="1.6" fill="#E68F62" stroke="none"/><circle cx="1269.4" cy="230.92" r="4.7"/><circle cx="1269.4" cy="230.92" r="1.6" fill="#E68F62" stroke="none"/><circle cx="1273.7" cy="230.92" r="4.7"/><circle cx="1273.7" cy="230.92" r="1.6" fill="#E68F62" stroke="none"/><circle cx="1262.7" cy="236.31" r="4.7"/><circle cx="1262.7" cy="236.31" r="1.6" fill="#E68F62" stroke="none"/><circle cx="1247.7" cy="246.01" r="4.7"/><circle cx="1247.7" cy="246.01" r="1.6" fill="#E68F62" stroke="none"/><circle cx="1253.7" cy="246.01" r="4.7"/><circle cx="1253.7" cy="246.01" r="1.6" fill="#E68F62" stroke="none"/><circle cx="1259.2" cy="246.01" r="4.7"/><circle cx="1259.2" cy="246.01" r="1.6" fill="#E68F62" stroke="none"/><circle cx="1277.2" cy="246.01" r="4.7"/><circle cx="1277.2" cy="246.01" r="1.6" fill="#E68F62" stroke="none"/><circle cx="1271.7" cy="246.01" r="4.7"/><circle cx="1271.7" cy="246.01" r="1.6" fill="#E68F62" stroke="none"/><circle cx="1266" cy="252.48" r="4.7"/><circle cx="1266" cy="252.48" r="1.6" fill="#E68F62" stroke="none"/><circle cx="1271.7" cy="252.48" r="4.7"/><circle cx="1271.7" cy="252.48" r="1.6" fill="#E68F62" stroke="none"/><circle cx="1252.7" cy="299.91" r="4.7"/><circle cx="1252.7" cy="299.91" r="1.6" fill="#E68F62" stroke="none"/><circle cx="1258.7" cy="299.91" r="4.7"/><circle cx="1258.7" cy="299.91" r="1.6" fill="#E68F62" stroke="none"/><circle cx="1273.7" cy="299.91" r="4.7"/><circle cx="1273.7" cy="299.91" r="1.6" fill="#E68F62" stroke="none"/><circle cx="1267.7" cy="299.91" r="4.7"/><circle cx="1267.7" cy="299.91" r="1.6" fill="#E68F62" stroke="none"/><circle cx="1268.2" cy="305.84" r="4.7"/><circle cx="1268.2" cy="305.84" r="1.6" fill="#E68F62" stroke="none"/><circle cx="1258.7" cy="317.16" r="4.7"/><circle cx="1258.7" cy="317.16" r="1.6" fill="#E68F62" stroke="none"/><circle cx="1269.4" cy="317.16" r="4.7"/><circle cx="1269.4" cy="317.16" r="1.6" fill="#E68F62" stroke="none"/><circle cx="1267.1" cy="328.48" r="4.7"/><circle cx="1267.1" cy="328.48" r="1.6" fill="#E68F62" stroke="none"/><circle cx="1260.3" cy="333.33" r="4.7"/><circle cx="1260.3" cy="333.33" r="1.6" fill="#E68F62" stroke="none"/></g>
<g stroke="#89CCFC" stroke-width="3.3" fill="none"><path d="M1326.7 246.55V317.7M1326.7 364.59V402.86M1316.4 246.55H1337M1316.4 402.86H1337M1307.4 344.11H1346"/><rect x="1307.4" y="317.7" width="38.6" height="46.89"/></g><g fill="none" stroke="#89CCFC" stroke-width="0.85"><path stroke-width="1.05" d="M1326.7 241.79L1332 247.09L1326.7 252.39L1321.4 247.09Z"/><circle cx="1326.7" cy="247.09" r="1.8" fill="#89CCFC" stroke="none"/><path stroke-width="1.05" d="M1322.65 256.88L1327.95 262.18L1322.65 267.48L1317.35 262.18Z"/><circle cx="1322.65" cy="262.18" r="1.8" fill="#89CCFC" stroke="none"/><path stroke-width="1.05" d="M1329.8 262.81L1335.1 268.11L1329.8 273.41L1324.5 268.11Z"/><circle cx="1329.8" cy="268.11" r="1.8" fill="#89CCFC" stroke="none"/><path stroke-width="1.05" d="M1326.7 289.76L1332 295.06L1326.7 300.36L1321.4 295.06Z"/><circle cx="1326.7" cy="295.06" r="1.8" fill="#89CCFC" stroke="none"/><path stroke-width="1.05" d="M1316.68 301.08L1321.98 306.38L1316.68 311.68L1311.38 306.38Z"/><circle cx="1316.68" cy="306.38" r="1.8" fill="#89CCFC" stroke="none"/><path stroke-width="1.05" d="M1329.8 301.08L1335.1 306.38L1329.8 311.68L1324.5 306.38Z"/><circle cx="1329.8" cy="306.38" r="1.8" fill="#89CCFC" stroke="none"/><path stroke-width="1.05" d="M1319.07 307.01L1324.37 312.31L1319.07 317.61L1313.77 312.31Z"/><circle cx="1319.07" cy="312.31" r="1.8" fill="#89CCFC" stroke="none"/><path stroke-width="1.05" d="M1324.55 307.01L1329.85 312.31L1324.55 317.61L1319.25 312.31Z"/><circle cx="1324.55" cy="312.31" r="1.8" fill="#89CCFC" stroke="none"/><path stroke-width="1.05" d="M1323.36 316.71L1328.66 322.01L1323.36 327.31L1318.06 322.01Z"/><circle cx="1323.36" cy="322.01" r="1.8" fill="#89CCFC" stroke="none"/><path stroke-width="1.05" d="M1335.76 316.71L1341.06 322.01L1335.76 327.31L1330.46 322.01Z"/><circle cx="1335.76" cy="322.01" r="1.8" fill="#89CCFC" stroke="none"/><path stroke-width="1.05" d="M1316.68 322.1L1321.98 327.4L1316.68 332.7L1311.38 327.4Z"/><circle cx="1316.68" cy="327.4" r="1.8" fill="#89CCFC" stroke="none"/><path stroke-width="1.05" d="M1329.8 322.1L1335.1 327.4L1329.8 332.7L1324.5 327.4Z"/><circle cx="1329.8" cy="327.4" r="1.8" fill="#89CCFC" stroke="none"/><path stroke-width="1.05" d="M1323.36 328.03L1328.66 333.33L1323.36 338.63L1318.06 333.33Z"/><circle cx="1323.36" cy="333.33" r="1.8" fill="#89CCFC" stroke="none"/><path stroke-width="1.05" d="M1316.68 338.81L1321.98 344.11L1316.68 349.41L1311.38 344.11Z"/><circle cx="1316.68" cy="344.11" r="1.8" fill="#89CCFC" stroke="none"/><path stroke-width="1.05" d="M1323.36 338.81L1328.66 344.11L1323.36 349.41L1318.06 344.11Z"/><circle cx="1323.36" cy="344.11" r="1.8" fill="#89CCFC" stroke="none"/><path stroke-width="1.05" d="M1329.8 338.81L1335.1 344.11L1329.8 349.41L1324.5 344.11Z"/><circle cx="1329.8" cy="344.11" r="1.8" fill="#89CCFC" stroke="none"/><path stroke-width="1.05" d="M1335.76 338.81L1341.06 344.11L1335.76 349.41L1330.46 344.11Z"/><circle cx="1335.76" cy="344.11" r="1.8" fill="#89CCFC" stroke="none"/><path stroke-width="1.05" d="M1329.8 348.51L1335.1 353.81L1329.8 359.11L1324.5 353.81Z"/><circle cx="1329.8" cy="353.81" r="1.8" fill="#89CCFC" stroke="none"/><path stroke-width="1.05" d="M1310.01 354.98L1315.31 360.28L1310.01 365.58L1304.71 360.28Z"/><circle cx="1310.01" cy="360.28" r="1.8" fill="#89CCFC" stroke="none"/><path stroke-width="1.05" d="M1342.92 354.98L1348.22 360.28L1342.92 365.58L1337.62 360.28Z"/><circle cx="1342.92" cy="360.28" r="1.8" fill="#89CCFC" stroke="none"/><path stroke-width="1.05" d="M1309.53 365.76L1314.83 371.06L1309.53 376.36L1304.23 371.06Z"/><circle cx="1309.53" cy="371.06" r="1.8" fill="#89CCFC" stroke="none"/><path stroke-width="1.05" d="M1316.68 365.76L1321.98 371.06L1316.68 376.36L1311.38 371.06Z"/><circle cx="1316.68" cy="371.06" r="1.8" fill="#89CCFC" stroke="none"/><path stroke-width="1.05" d="M1329.8 365.76L1335.1 371.06L1329.8 376.36L1324.5 371.06Z"/><circle cx="1329.8" cy="371.06" r="1.8" fill="#89CCFC" stroke="none"/><path stroke-width="1.05" d="M1335.76 365.76L1341.06 371.06L1335.76 376.36L1330.46 371.06Z"/><circle cx="1335.76" cy="371.06" r="1.8" fill="#89CCFC" stroke="none"/><path stroke-width="1.05" d="M1342.92 365.76L1348.22 371.06L1342.92 376.36L1337.62 371.06Z"/><circle cx="1342.92" cy="371.06" r="1.8" fill="#89CCFC" stroke="none"/><path stroke-width="1.05" d="M1323.36 371.15L1328.66 376.45L1323.36 381.75L1318.06 376.45Z"/><circle cx="1323.36" cy="376.45" r="1.8" fill="#89CCFC" stroke="none"/><path stroke-width="1.05" d="M1329.8 371.15L1335.1 376.45L1329.8 381.75L1324.5 376.45Z"/><circle cx="1329.8" cy="376.45" r="1.8" fill="#89CCFC" stroke="none"/><path stroke-width="1.05" d="M1335.76 371.15L1341.06 376.45L1335.76 381.75L1330.46 376.45Z"/><circle cx="1335.76" cy="376.45" r="1.8" fill="#89CCFC" stroke="none"/><path stroke-width="1.05" d="M1326.7 398.1L1332 403.4L1326.7 408.7L1321.4 403.4Z"/><circle cx="1326.7" cy="403.4" r="1.8" fill="#89CCFC" stroke="none"/></g>
<g stroke="#E68F62" stroke-width="3.3" fill="none"><path d="M1432.3 187.8V227.69M1432.3 298.83V327.94M1422 187.8H1442.6M1422 327.94H1442.6M1413 246.55H1451.6"/><rect x="1413" y="227.69" width="38.6" height="71.15"/></g><g fill="none" stroke="#E68F62" stroke-width="0.85"><circle cx="1437.49" cy="187.8" r="4.7"/><circle cx="1437.49" cy="187.8" r="1.6" fill="#E68F62" stroke="none"/><circle cx="1426.49" cy="193.19" r="4.7"/><circle cx="1426.49" cy="193.19" r="1.6" fill="#E68F62" stroke="none"/><circle cx="1429.19" cy="202.89" r="4.7"/><circle cx="1429.19" cy="202.89" r="1.6" fill="#E68F62" stroke="none"/><circle cx="1435.41" cy="202.89" r="4.7"/><circle cx="1435.41" cy="202.89" r="1.6" fill="#E68F62" stroke="none"/><circle cx="1432.3" cy="213.67" r="4.7"/><circle cx="1432.3" cy="213.67" r="1.6" fill="#E68F62" stroke="none"/><circle cx="1426.08" cy="224.99" r="4.7"/><circle cx="1426.08" cy="224.99" r="1.6" fill="#E68F62" stroke="none"/><circle cx="1442.67" cy="224.99" r="4.7"/><circle cx="1442.67" cy="224.99" r="1.6" fill="#E68F62" stroke="none"/><circle cx="1431.89" cy="224.99" r="4.7"/><circle cx="1431.89" cy="224.99" r="1.6" fill="#E68F62" stroke="none"/><circle cx="1437.49" cy="224.99" r="4.7"/><circle cx="1437.49" cy="224.99" r="1.6" fill="#E68F62" stroke="none"/><circle cx="1421.51" cy="230.92" r="4.7"/><circle cx="1421.51" cy="230.92" r="1.6" fill="#E68F62" stroke="none"/><circle cx="1437.49" cy="230.92" r="4.7"/><circle cx="1437.49" cy="230.92" r="1.6" fill="#E68F62" stroke="none"/><circle cx="1431.89" cy="236.31" r="4.7"/><circle cx="1431.89" cy="236.31" r="1.6" fill="#E68F62" stroke="none"/><circle cx="1415.7" cy="247.09" r="4.7"/><circle cx="1415.7" cy="247.09" r="1.6" fill="#E68F62" stroke="none"/><circle cx="1420.89" cy="247.09" r="4.7"/><circle cx="1420.89" cy="247.09" r="1.6" fill="#E68F62" stroke="none"/><circle cx="1442.67" cy="247.09" r="4.7"/><circle cx="1442.67" cy="247.09" r="1.6" fill="#E68F62" stroke="none"/><circle cx="1447.86" cy="247.09" r="4.7"/><circle cx="1447.86" cy="247.09" r="1.6" fill="#E68F62" stroke="none"/><circle cx="1426.49" cy="247.09" r="4.7"/><circle cx="1426.49" cy="247.09" r="1.6" fill="#E68F62" stroke="none"/><circle cx="1426.49" cy="253.02" r="4.7"/><circle cx="1426.49" cy="253.02" r="1.6" fill="#E68F62" stroke="none"/><circle cx="1431.89" cy="253.02" r="4.7"/><circle cx="1431.89" cy="253.02" r="1.6" fill="#E68F62" stroke="none"/><circle cx="1437.49" cy="253.02" r="4.7"/><circle cx="1437.49" cy="253.02" r="1.6" fill="#E68F62" stroke="none"/><circle cx="1437.49" cy="278.89" r="4.7"/><circle cx="1437.49" cy="278.89" r="1.6" fill="#E68F62" stroke="none"/><circle cx="1431.89" cy="284.82" r="4.7"/><circle cx="1431.89" cy="284.82" r="1.6" fill="#E68F62" stroke="none"/><circle cx="1426.49" cy="298.3" r="4.7"/><circle cx="1426.49" cy="298.3" r="1.6" fill="#E68F62" stroke="none"/><circle cx="1431.89" cy="298.3" r="4.7"/><circle cx="1431.89" cy="298.3" r="1.6" fill="#E68F62" stroke="none"/><circle cx="1437.49" cy="298.3" r="4.7"/><circle cx="1437.49" cy="298.3" r="1.6" fill="#E68F62" stroke="none"/><circle cx="1442.67" cy="298.3" r="4.7"/><circle cx="1442.67" cy="298.3" r="1.6" fill="#E68F62" stroke="none"/><circle cx="1420.89" cy="305.84" r="4.7"/><circle cx="1420.89" cy="305.84" r="1.6" fill="#E68F62" stroke="none"/><circle cx="1426.49" cy="317.16" r="4.7"/><circle cx="1426.49" cy="317.16" r="1.6" fill="#E68F62" stroke="none"/><circle cx="1437.49" cy="317.16" r="4.7"/><circle cx="1437.49" cy="317.16" r="1.6" fill="#E68F62" stroke="none"/><circle cx="1431.89" cy="327.94" r="4.7"/><circle cx="1431.89" cy="327.94" r="1.6" fill="#E68F62" stroke="none"/></g>
<g stroke="#89CCFC" stroke-width="3.3" fill="none"><path d="M1495.3 295.6V351.66M1495.3 379.14V398.01M1485 295.6H1505.6M1485 398.01H1505.6M1476 370.52H1514.6"/><rect x="1476" y="351.66" width="38.6" height="27.49"/></g><g fill="none" stroke="#89CCFC" stroke-width="0.85"><path stroke-width="1.05" d="M1492.63 290.3L1497.93 295.6L1492.63 300.9L1487.33 295.6Z"/><circle cx="1492.63" cy="295.6" r="1.8" fill="#89CCFC" stroke="none"/><path stroke-width="1.05" d="M1497.66 290.3L1502.96 295.6L1497.66 300.9L1492.36 295.6Z"/><circle cx="1497.66" cy="295.6" r="1.8" fill="#89CCFC" stroke="none"/><path stroke-width="1.05" d="M1492.63 328.03L1497.93 333.33L1492.63 338.63L1487.33 333.33Z"/><circle cx="1492.63" cy="333.33" r="1.8" fill="#89CCFC" stroke="none"/><path stroke-width="1.05" d="M1497.03 333.42L1502.33 338.72L1497.03 344.02L1491.73 338.72Z"/><circle cx="1497.03" cy="338.72" r="1.8" fill="#89CCFC" stroke="none"/><path stroke-width="1.05" d="M1483.19 344.2L1488.49 349.5L1483.19 354.8L1477.89 349.5Z"/><circle cx="1483.19" cy="349.5" r="1.8" fill="#89CCFC" stroke="none"/><path stroke-width="1.05" d="M1487.91 344.2L1493.21 349.5L1487.91 354.8L1482.61 349.5Z"/><circle cx="1487.91" cy="349.5" r="1.8" fill="#89CCFC" stroke="none"/><path stroke-width="1.05" d="M1502.06 344.2L1507.36 349.5L1502.06 354.8L1496.76 349.5Z"/><circle cx="1502.06" cy="349.5" r="1.8" fill="#89CCFC" stroke="none"/><path stroke-width="1.05" d="M1487.91 349.05L1493.21 354.35L1487.91 359.65L1482.61 354.35Z"/><circle cx="1487.91" cy="354.35" r="1.8" fill="#89CCFC" stroke="none"/><path stroke-width="1.05" d="M1497.03 349.05L1502.33 354.35L1497.03 359.65L1491.73 354.35Z"/><circle cx="1497.03" cy="354.35" r="1.8" fill="#89CCFC" stroke="none"/><path stroke-width="1.05" d="M1483.19 354.98L1488.49 360.28L1483.19 365.58L1477.89 360.28Z"/><circle cx="1483.19" cy="360.28" r="1.8" fill="#89CCFC" stroke="none"/><path stroke-width="1.05" d="M1492.63 354.98L1497.93 360.28L1492.63 365.58L1487.33 360.28Z"/><circle cx="1492.63" cy="360.28" r="1.8" fill="#89CCFC" stroke="none"/><path stroke-width="1.05" d="M1478.48 360.37L1483.78 365.67L1478.48 370.97L1473.18 365.67Z"/><circle cx="1478.48" cy="365.67" r="1.8" fill="#89CCFC" stroke="none"/><path stroke-width="1.05" d="M1502.06 360.37L1507.36 365.67L1502.06 370.97L1496.76 365.67Z"/><circle cx="1502.06" cy="365.67" r="1.8" fill="#89CCFC" stroke="none"/><path stroke-width="1.05" d="M1511.49 360.37L1516.79 365.67L1511.49 370.97L1506.19 365.67Z"/><circle cx="1511.49" cy="365.67" r="1.8" fill="#89CCFC" stroke="none"/><path stroke-width="1.05" d="M1483.19 365.76L1488.49 371.06L1483.19 376.36L1477.89 371.06Z"/><circle cx="1483.19" cy="371.06" r="1.8" fill="#89CCFC" stroke="none"/><path stroke-width="1.05" d="M1487.91 365.76L1493.21 371.06L1487.91 376.36L1482.61 371.06Z"/><circle cx="1487.91" cy="371.06" r="1.8" fill="#89CCFC" stroke="none"/><path stroke-width="1.05" d="M1497.03 365.76L1502.33 371.06L1497.03 376.36L1491.73 371.06Z"/><circle cx="1497.03" cy="371.06" r="1.8" fill="#89CCFC" stroke="none"/><path stroke-width="1.05" d="M1506.78 365.76L1512.08 371.06L1506.78 376.36L1501.48 371.06Z"/><circle cx="1506.78" cy="371.06" r="1.8" fill="#89CCFC" stroke="none"/><path stroke-width="1.05" d="M1492.63 371.15L1497.93 376.45L1492.63 381.75L1487.33 376.45Z"/><circle cx="1492.63" cy="376.45" r="1.8" fill="#89CCFC" stroke="none"/><path stroke-width="1.05" d="M1502.06 371.15L1507.36 376.45L1502.06 381.75L1496.76 376.45Z"/><circle cx="1502.06" cy="376.45" r="1.8" fill="#89CCFC" stroke="none"/><path stroke-width="1.05" d="M1478.48 371.15L1483.78 376.45L1478.48 381.75L1473.18 376.45Z"/><circle cx="1478.48" cy="376.45" r="1.8" fill="#89CCFC" stroke="none"/><path stroke-width="1.05" d="M1511.49 371.15L1516.79 376.45L1511.49 381.75L1506.19 376.45Z"/><circle cx="1511.49" cy="376.45" r="1.8" fill="#89CCFC" stroke="none"/><path stroke-width="1.05" d="M1483.19 381.93L1488.49 387.23L1483.19 392.53L1477.89 387.23Z"/><circle cx="1483.19" cy="387.23" r="1.8" fill="#89CCFC" stroke="none"/><path stroke-width="1.05" d="M1502.06 381.93L1507.36 387.23L1502.06 392.53L1496.76 387.23Z"/><circle cx="1502.06" cy="387.23" r="1.8" fill="#89CCFC" stroke="none"/><path stroke-width="1.05" d="M1492.63 387.32L1497.93 392.62L1492.63 397.92L1487.33 392.62Z"/><circle cx="1492.63" cy="392.62" r="1.8" fill="#89CCFC" stroke="none"/><path stroke-width="1.05" d="M1487.91 392.71L1493.21 398.01L1487.91 403.31L1482.61 398.01Z"/><circle cx="1487.91" cy="398.01" r="1.8" fill="#89CCFC" stroke="none"/><path stroke-width="1.05" d="M1497.03 392.71L1502.33 398.01L1497.03 403.31L1491.73 398.01Z"/><circle cx="1497.03" cy="398.01" r="1.8" fill="#89CCFC" stroke="none"/><path stroke-width="1.05" d="M1502.06 392.71L1507.36 398.01L1502.06 403.31L1496.76 398.01Z"/><circle cx="1502.06" cy="398.01" r="1.8" fill="#89CCFC" stroke="none"/></g>
<g stroke="#000" stroke-width="3.2"><path d="M54.5 562.4L814.8 563.5M54.5 606.2L814.8 607.7M54.5 735.0L814.8 736.5"/></g>
<text class="tt" x="65.2" y="593.5">Time point</text>
<text class="tt" x="349.1" y="593.9" text-anchor="middle">Ketamine group</text>
<text class="tt" x="589.6" y="595.8" text-anchor="middle">Opioid group</text>
<text class="tt b" x="705.5" y="595.4"><tspan class="i">P</tspan> value<tspan class="sb cjk" font-size="11.5" dx="0" dy="-13.2">※</tspan></text>
<text class="tt" x="65.3" y="638.6">T<tspan dx="-1.8">1</tspan></text>
<text class="tt" x="65.3" y="668.8">T<tspan dx="-1.8">3</tspan></text>
<text class="tt" x="65.3" y="698.8">T<tspan dx="-1.8">4</tspan></text>
<text class="tt" x="65.5" y="727.3"><tspan class="i">P</tspan> value<tspan class="sb" font-size="19.5" dx="-1.0" dy="-11">#</tspan></text>
<text class="tt" x="349.9" y="639.4" text-anchor="middle">1.5 (1.1-1.6)</text>
<text class="tt" x="349.9" y="669.5" text-anchor="middle">7.1 (5.7-8.5)</text>
<text class="tt" x="349.9" y="699.7" text-anchor="middle">8.5 (7.8-9.3)</text>
<text class="tt" x="349.9" y="729.5" text-anchor="middle">&lt;0.001</text>
<text class="tt" x="590.5" y="641.4" text-anchor="middle">1.5 (1.2-1.9)</text>
<text class="tt" x="590.5" y="671.5" text-anchor="middle">15.3 (13.4-17.4)</text>
<text class="tt" x="590.5" y="701.7" text-anchor="middle">22.0 (16.8-25.3)</text>
<text class="tt" x="590.5" y="731.5" text-anchor="middle">&lt;0.001</text>
<text class="tt b" x="758.1" y="638.3" text-anchor="middle">0.495</text>
<text class="tt b" x="757" y="668.5" text-anchor="middle">&lt;0.001</text>
<text class="tt b" x="757" y="699.0" text-anchor="middle">&lt;0.001</text>
<text class="t19" x="63.1" y="759.0"><tspan class="i">P</tspan> value<tspan class="sb cjk" font-size="8.5" dx="-1.3" dy="-7.7">※</tspan><tspan dx="0.9" dy="7.7"> was between-group comparisons using the Wilcoxon rank sum test.</tspan></text>
<text class="t19" x="63.1" y="786.8"><tspan class="i">P</tspan> value<tspan class="sb" font-size="16.3" dx="-1.2" dy="-8.6">#</tspan><tspan dx="-0.9" dy="8.6">  was within-group comparisons using the Friedman test.</tspan></text>
<g stroke="#000" stroke-width="3.2"><path d="M936 563L1700 564.3M936 607.8L1700 608.8M936 736.4L1700 737.9"/></g>
<text class="tt" x="946.5" y="594.8">Time point</text>
<text class="tt" x="1231.2" y="594.8" text-anchor="middle">Ketamine group</text>
<text class="tt" x="1473.5" y="597" text-anchor="middle">Opioid group</text>
<text class="tt b" x="1591.3" y="599.6"><tspan class="i">P</tspan> value<tspan class="sb cjk" font-size="9.5" dx="-0.6" dy="-11.9">※</tspan></text>
<text class="tt" x="946.5" y="639.2">T<tspan dx="-1.8">1</tspan></text>
<text class="tt" x="946.5" y="669.6">T<tspan dx="-1.8">3</tspan></text>
<text class="tt" x="946.5" y="699.9">T<tspan dx="-1.8">4</tspan></text>
<text class="tt" x="946.6" y="729.4"><tspan class="i">P</tspan> value<tspan class="sb" font-size="19.5" dx="-1.0" dy="-11">#</tspan></text>
<text class="tt" x="1231.8" y="640.6" text-anchor="middle">1.9 (1.5-2.2)</text>
<text class="tt" x="1231.8" y="670.5" text-anchor="middle">3.9 (2.9-4.3)</text>
<text class="tt" x="1231.8" y="700.8" text-anchor="middle">3.9 (2.9-4.3)</text>
<text class="tt" x="1231.8" y="730.8" text-anchor="middle">&lt;0.001</text>
<text class="tt" x="1473.5" y="643" text-anchor="middle">1.8 (1.3-2.4)</text>
<text class="tt" x="1473.5" y="673" text-anchor="middle">2.1 (1.7-2.6)</text>
<text class="tt" x="1473.5" y="703.2" text-anchor="middle">1.6 (1.4-2.0)</text>
<text class="tt" x="1473.5" y="733.5" text-anchor="middle">0.002</text>
<text class="tt b" x="1642.6" y="641.5" text-anchor="middle">0.428</text>
<text class="tt b" x="1641.5" y="671.5" text-anchor="middle">&lt;0.001</text>
<text class="tt b" x="1641.5" y="702" text-anchor="middle">&lt;0.001</text>
<text class="t19" x="944.7" y="761.1"><tspan class="i">P</tspan> value<tspan class="sb cjk" font-size="8.3" dx="-1.3" dy="-8.0">※</tspan><tspan dx="0.9" dy="8.0"> was between-group comparisons using the Wilcoxon rank sum test.</tspan></text>
<text class="t19" x="944.7" y="789.0"><tspan class="i">P</tspan> value<tspan class="sb" font-size="16.5" dx="-1.2" dy="-8.8">#</tspan><tspan dx="-0.9" dy="8.8">  was within-group comparisons using the Friedman test.</tspan></text>
</svg>
</body></html>
